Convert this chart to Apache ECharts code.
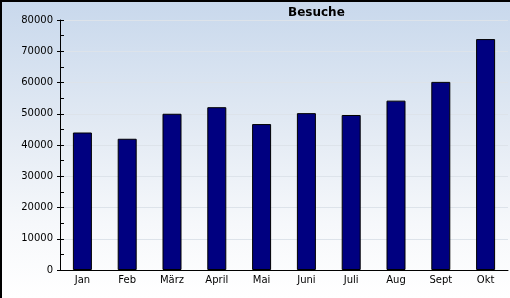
<!DOCTYPE html>
<html>
<head>
<meta charset="utf-8">
<script src="https://cdn.jsdelivr.net/npm/echarts@6/dist/echarts.min.js"></script>
<style>
  html, body { margin: 0; padding: 0; }
  body { width: 510px; height: 298px; overflow: hidden; position: relative;
    background: linear-gradient(to bottom, #c8d8ec 0%, #e4ebf4 45%, #f6f8fb 75%, #ffffff 100%); }
  #chart { position: absolute; left: 0; top: 0; width: 510px; height: 298px; }
  #frame { position: absolute; left: 0; top: 0; width: 510px; height: 298px;
    box-sizing: border-box; border-left: 2px solid #000; border-top: 2px solid #000; pointer-events: none; }
</style>
</head>
<body>
<div id="chart"></div>
<div id="frame"></div>
<script>
const months = ["Jan", "Feb", "März", "April", "Mai", "Juni", "Juli", "Aug", "Sept", "Okt"];
const visits = [44000, 42000, 50000, 52100, 46700, 50200, 49600, 54200, 60200, 73900];

const chart = echarts.init(document.getElementById("chart"), null, { renderer: "canvas" });

const yBase = { type: "value", min: 0, max: 80000, interval: 10000 };

chart.setOption({
  backgroundColor: "transparent",
  animation: false,
  title: {
    text: "Besuche",
    left: 283,
    top: 2,
    textStyle: { fontFamily: "DejaVu Sans", fontSize: 12, fontWeight: "bold", color: "#000" }
  },
  grid: { left: 60, right: 2, top: 20, bottom: 28 },
  xAxis: {
    type: "category",
    data: months,
    axisLine: { lineStyle: { color: "#000", width: 1 } },
    axisTick: { inside: true, length: 4, lineStyle: { color: "#000" } },
    axisLabel: { color: "#000", fontFamily: "DejaVu Sans", fontSize: 10, margin: 5 },
    splitLine: { show: false }
  },
  yAxis: [{
    ...yBase,
    axisLine: { show: true, lineStyle: { color: "#000", width: 1 } },
    axisTick: { show: true, inside: true, length: 4, lineStyle: { color: "#000" } },
    minorTick: { show: true, splitNumber: 2, length: 4, lineStyle: { color: "#000" } },
    axisLabel: { color: "#000", fontFamily: "DejaVu Sans", fontSize: 10, margin: 7,
      formatter: (v) => String(v) },
    splitLine: { show: true, lineStyle: { color: "#dde3ea", width: 1 } }
  }, {
    ...yBase,
    position: "left",
    offset: 0,
    axisLine: { show: false },
    axisTick: { show: true, inside: false, length: 3, lineStyle: { color: "#000" } },
    axisLabel: { show: false },
    splitLine: { show: false }
  }],
  series: [{
    type: "bar",
    data: visits,
    barWidth: 19,
    itemStyle: { color: "#000080", borderColor: "#000", borderWidth: 1 }
  }]
});
</script>
</body>
</html>
